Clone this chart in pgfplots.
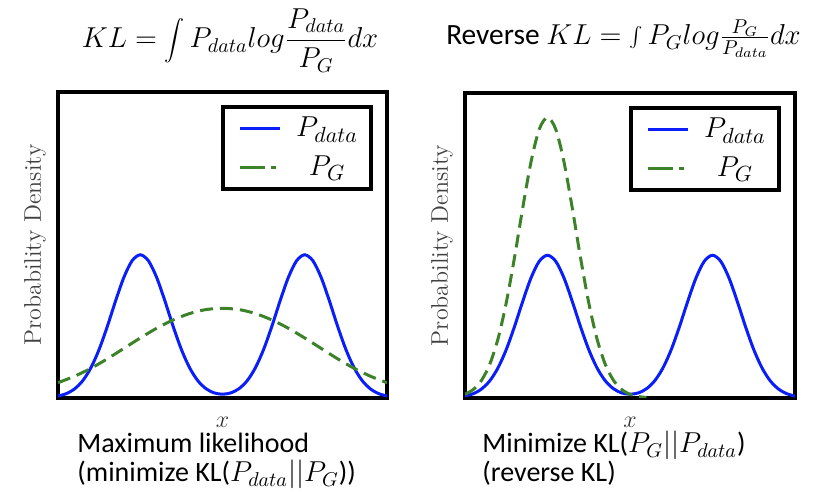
\documentclass[border=0pt]{standalone}
\usepackage{fontspec}
\setmainfont{Carlito}
\usepackage{pgfplots}
\pgfplotsset{compat=1.18}

\definecolor{pblue}{RGB}{10,30,250}
\definecolor{pgreen}{RGB}{60,130,40}

% 1 px of the reference = 0.5pt
\pgfplotsset{
  kl/.style={
    scale only axis,
    anchor=south west,
    xmin=0, xmax=1, ymin=0, ymax=1,
    xtick=\empty, ytick=\empty,
    axis line style={line width=1.8pt},
    clip=true,
    xlabel={$x$},
    xlabel style={at={(axis description cs:0.5,0)}, anchor=center, yshift=-12pt,
      font=\fontsize{13}{14}\selectfont, text=black!80},
    ylabel={Probability Density},
    ylabel style={at={(axis description cs:-0.07,0.5)}, anchor=center,
      font=\fontfamily{lmr}\fontsize{12}{13}\selectfont, text=black!75},
    legend style={at={(0.957,0.957)}, anchor=north east,
      line width=1.8pt, draw=black,
      font=\fontsize{15}{17}\selectfont,
      inner xsep=2pt, inner ysep=1pt, row sep=0pt,
      nodes={minimum width=40pt, minimum height=19.5pt, inner sep=0pt}},
    legend cell align=center,
  },
  pdata/.style={pblue, line width=1.5pt, smooth},
  pg/.style={pgreen, line width=1.5pt, smooth, dash pattern=on 6.5pt off 3.5pt},
  gleg/.style={legend image code/.code={
    \draw[draw=none] (0pt,0pt) -- (30pt,0pt);
    \draw[pgreen, line width=1.8pt, dash pattern=on 12.5pt off 3pt on 2.5pt off 10pt]
      (6.5pt,0pt) -- (26.5pt,0pt);}},
  bleg/.style={legend image code/.code={
    \draw[draw=none] (0pt,0pt) -- (30pt,0pt);
    \draw[pblue, line width=1.8pt] (6.5pt,0pt) -- (26.5pt,0pt);}},
}

\begin{document}
\begin{tikzpicture}
\useasboundingbox (0,0) rectangle (408pt,249pt);

% left: KL
\begin{axis}[kl, at={(29pt,50pt)}, width=164.5pt, height=153pt]
\addplot[pdata, bleg] coordinates {
 (0,0.0062) (0.025,0.0141) (0.05,0.0294) (0.075,0.0562) (0.1,0.0987)
 (0.125,0.1587) (0.15,0.2342) (0.175,0.3171) (0.2,0.3936) (0.225,0.4482)
 (0.25,0.468) (0.275,0.4482) (0.3,0.3936) (0.325,0.3171) (0.35,0.2342)
 (0.375,0.1587) (0.4,0.0988) (0.425,0.0565) (0.45,0.0303) (0.475,0.0166)
 (0.5,0.0124) (0.525,0.0166) (0.55,0.0303) (0.575,0.0565) (0.6,0.0988)
 (0.625,0.1587) (0.65,0.2342) (0.675,0.3171) (0.7,0.3936) (0.725,0.4482)
 (0.75,0.468) (0.775,0.4482) (0.8,0.3936) (0.825,0.3171) (0.85,0.2342)
 (0.875,0.1587) (0.9,0.0987) (0.925,0.0562) (0.95,0.0294) (0.975,0.0141)
 (1,0.0062) };
\addplot[pg, gleg] coordinates {
 (0,0.050) (0.05,0.071) (0.1,0.097) (0.15,0.128) (0.2,0.162) (0.25,0.196)
 (0.3,0.228) (0.35,0.255) (0.4,0.276) (0.45,0.289) (0.5,0.293)
 (0.55,0.289) (0.6,0.276) (0.65,0.255) (0.7,0.228) (0.75,0.196)
 (0.8,0.162) (0.85,0.128) (0.9,0.097) (0.95,0.071) (1,0.050) };
\legend{$P_{data}$, $P_G$}
\end{axis}

% right: reverse KL
\begin{axis}[kl, at={(232.5pt,50pt)}, width=165pt, height=152.5pt]
\addplot[pdata, bleg] coordinates {
 (0,0.0062) (0.025,0.0141) (0.05,0.0294) (0.075,0.0562) (0.1,0.0987)
 (0.125,0.1587) (0.15,0.2342) (0.175,0.3171) (0.2,0.3936) (0.225,0.4482)
 (0.25,0.468) (0.275,0.4482) (0.3,0.3936) (0.325,0.3171) (0.35,0.2342)
 (0.375,0.1587) (0.4,0.0988) (0.425,0.0565) (0.45,0.0303) (0.475,0.0166)
 (0.5,0.0124) (0.525,0.0166) (0.55,0.0303) (0.575,0.0565) (0.6,0.0988)
 (0.625,0.1587) (0.65,0.2342) (0.675,0.3171) (0.7,0.3936) (0.725,0.4482)
 (0.75,0.468) (0.775,0.4482) (0.8,0.3936) (0.825,0.3171) (0.85,0.2342)
 (0.875,0.1587) (0.9,0.0987) (0.925,0.0562) (0.95,0.0294) (0.975,0.0141)
 (1,0.0062) };
\addplot[pg, gleg] coordinates {
 (0,0.0122) (0.025,0.0277) (0.05,0.0578) (0.075,0.1105) (0.1,0.1939)
 (0.125,0.3120) (0.15,0.4605) (0.175,0.6234) (0.2,0.7738) (0.225,0.8811)
 (0.25,0.92) (0.275,0.8811) (0.3,0.7738) (0.325,0.6234) (0.35,0.4605)
 (0.375,0.3120) (0.4,0.1939) (0.425,0.1105) (0.45,0.0578) (0.475,0.0277)
 (0.5,0.0122) (0.525,0.0049) (0.55,0.0018) };
\legend{$P_{data}$, $P_G$}
\end{axis}

% titles
\node[anchor=base, font=\fontsize{14.7}{17}\selectfont] at (115pt,225pt)
  {$\displaystyle KL = \int P_{data} log \frac{P_{data}}{P_G} dx$};
\node[anchor=base, font=\fontsize{14.7}{17}\selectfont] at (311.75pt,226.5pt)
  {Reverse $KL = \int P_G log \frac{P_G}{P_{data}} dx$};

% captions
\begin{scope}[every node/.style={anchor=base west, inner sep=0pt, font=\fontsize{14}{16}\selectfont}]
\node at (38.5pt,22.5pt) {Maximum likelihood};
\node at (38.5pt,8pt) {(minimize KL($P_{data}||P_G$))};
\node at (241pt,22.5pt) {Minimize KL($P_G||P_{data}$)};
\node at (241pt,8pt) {(reverse KL)};
\end{scope}
\end{tikzpicture}
\end{document}
